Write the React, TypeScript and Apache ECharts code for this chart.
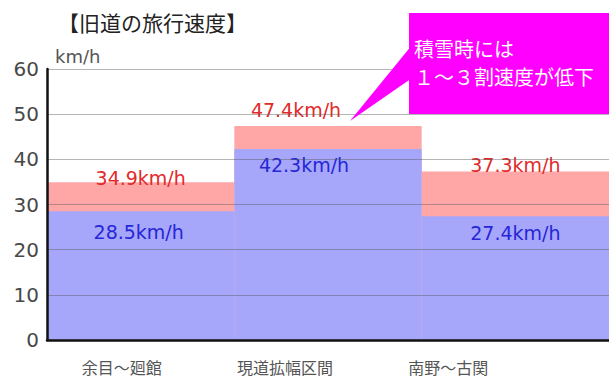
import React, { useEffect, useRef } from "react";
import * as echarts from "echarts";

// Travel speed on the old road, normal vs. snow conditions (km/h)
const sections = ["余目～廻館", "現道拡幅区間", "南野～古関"];
const normalSpeed = [34.9, 47.4, 37.3];
const snowSpeed = [28.5, 42.3, 27.4];
const yTicks = { min: 0, max: 60, interval: 10 };

const titleText = "【旧道の旅行速度】";
const unitText = "km/h";
const noteLines = ["積雪時には", "１～３割速度が低下"];

const NUM_FONT = "'DejaVu Sans', 'Liberation Sans', sans-serif";
const JP_FONT = "'Noto Sans CJK JP', 'Noto Sans', sans-serif";

export default function App() {
  const ref = useRef<HTMLDivElement>(null);

  useEffect(() => {
    if (!ref.current) return;
    const chart = echarts.init(ref.current, undefined, { renderer: "svg" });

    // small per-bar label nudges
    const redShift = [[0, 5], [-32, -6], [0, 3]];
    const blueShift = [[-2, 4], [-24, 0], [0, 0]];

    const option: echarts.EChartsOption = {
      animation: false,
      backgroundColor: "#ffffff",
      grid: [
        { left: 47, top: 69, width: 567, height: 271 },
        { left: 40, top: 69, width: 490, height: 271 },
      ],
      xAxis: [
        {
          type: "category",
          gridIndex: 0,
          data: sections,
          z: 5,
          axisLine: { show: true, lineStyle: { color: "#111", width: 2.5 } },
          axisTick: { show: false },
          axisLabel: { show: false },
          splitLine: { show: false },
        },
        {
          type: "category",
          gridIndex: 1,
          data: sections,
          axisLine: { show: false },
          axisTick: { show: false },
          axisLabel: {
            margin: 19,
            fontFamily: JP_FONT,
            fontSize: 16,
            color: "#555",
          },
        },
      ],
      yAxis: [
        {
          type: "value",
          gridIndex: 0,
          min: yTicks.min,
          max: yTicks.max,
          interval: yTicks.interval,
          z: 5,
          axisLine: { show: true, lineStyle: { color: "#111", width: 2.5 } },
          axisTick: { show: false },
          axisLabel: {
            margin: 8,
            fontFamily: NUM_FONT,
            fontSize: 20,
            color: "#484848",
          },
          splitLine: {
            show: true,
            lineStyle: { color: "rgba(90,90,90,0.45)", width: 1 },
          },
        },
        {
          type: "value",
          gridIndex: 1,
          min: yTicks.min,
          max: yTicks.max,
          show: false,
          splitLine: { show: false },
        },
      ],
      series: [
        {
          name: "通常時",
          type: "bar",
          xAxisIndex: 0,
          yAxisIndex: 0,
          barWidth: "100%",
          barGap: "-100%",
          barCategoryGap: "0%",
          itemStyle: { color: "#ffa6a6" },
          data: normalSpeed.map((v, i) => ({
            value: v,
            label: { offset: redShift[i] },
          })),
          label: {
            show: true,
            position: "top",
            distance: 0,
            formatter: (p: any) => `${p.value}km/h`,
            fontFamily: NUM_FONT,
            fontSize: 19,
            color: "#e32a2a",
          },
        },
        {
          name: "積雪時",
          type: "bar",
          xAxisIndex: 0,
          yAxisIndex: 0,
          barWidth: "100%",
          barGap: "-100%",
          barCategoryGap: "0%",
          itemStyle: { color: "#a6a6fb" },
          data: snowSpeed.map((v, i) => ({
            value: v,
            label: { offset: blueShift[i] },
          })),
          label: {
            show: true,
            position: "insideTop",
            distance: 7,
            formatter: (p: any) => `${p.value}km/h`,
            fontFamily: NUM_FONT,
            fontSize: 19,
            color: "#2626d6",
          },
        },
      ],
      graphic: [
        {
          type: "text",
          left: 58,
          top: 11,
          style: {
            text: titleText,
            font: `21px ${JP_FONT}`,
            fill: "#222",
          },
        },
        {
          type: "text",
          left: 55,
          top: 47,
          style: {
            text: unitText,
            font: `18px ${NUM_FONT}`,
            fill: "#555",
          },
        },
        {
          type: "polygon",
          z: 20,
          shape: {
            points: [
              [412, 45],
              [412, 78],
              [350, 121],
            ],
          },
          style: { fill: "#ff00ff" },
        },
        {
          type: "rect",
          z: 20,
          shape: { x: 409, y: 13, width: 210, height: 101 },
          style: { fill: "#ff00ff" },
        },
        // callout text, one element per line
        ...noteLines.map((line, i) => ({
          type: "text" as const,
          z: 21,
          x: 414,
          y: 48 + i * 28,
          style: {
            text: line,
            font: `20px ${JP_FONT}`,
            fill: "#ffffff",
            textVerticalAlign: "middle" as const,
          },
        })),
      ],
    };

    chart.setOption(option);
    return () => chart.dispose();
  }, []);

  return (
    <div
      ref={ref}
      style={{ position: "fixed", left: 0, top: 0, width: 609, height: 382 }}
    />
  );
}
